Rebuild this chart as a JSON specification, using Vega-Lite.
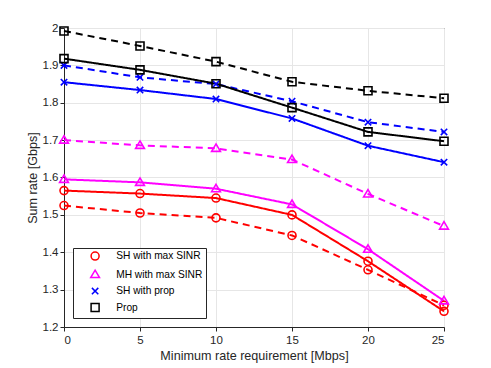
{
  "$schema": "https://vega.github.io/schema/vega-lite/v6.json",
  "width": 380,
  "height": 299,
  "autosize": "none",
  "padding": {"left": 64, "top": 28, "right": 47, "bottom": 41},
  "background": "white",
  "config": {
    "font": "Liberation Sans",
    "view": {"stroke": "#262626", "strokeWidth": 1},
    "axis": {
      "labelFont": "Liberation Sans", "titleFont": "Liberation Sans",
      "labelFontSize": 11.5, "titleFontSize": 12.6, "titleFontWeight": "normal",
      "labelColor": "#262626", "titleColor": "#262626",
      "domainColor": "#262626", "tickColor": "#262626",
      "gridColor": "#e6e6e6", "gridOpacity": 1, "tickSize": 4
    }
  },
  "data": {"values": [
    {"x": 0, "y": 1.565, "series": "SH with max SINR", "style": "solid"},
    {"x": 5, "y": 1.557, "series": "SH with max SINR", "style": "solid"},
    {"x": 10, "y": 1.545, "series": "SH with max SINR", "style": "solid"},
    {"x": 15, "y": 1.500, "series": "SH with max SINR", "style": "solid"},
    {"x": 20, "y": 1.376, "series": "SH with max SINR", "style": "solid"},
    {"x": 25, "y": 1.242, "series": "SH with max SINR", "style": "solid"},
    {"x": 0, "y": 1.525, "series": "SH with max SINR", "style": "dashed"},
    {"x": 5, "y": 1.505, "series": "SH with max SINR", "style": "dashed"},
    {"x": 10, "y": 1.492, "series": "SH with max SINR", "style": "dashed"},
    {"x": 15, "y": 1.445, "series": "SH with max SINR", "style": "dashed"},
    {"x": 20, "y": 1.353, "series": "SH with max SINR", "style": "dashed"},
    {"x": 25, "y": 1.258, "series": "SH with max SINR", "style": "dashed"},
    {"x": 0, "y": 1.595, "series": "MH with max SINR", "style": "solid"},
    {"x": 5, "y": 1.587, "series": "MH with max SINR", "style": "solid"},
    {"x": 10, "y": 1.570, "series": "MH with max SINR", "style": "solid"},
    {"x": 15, "y": 1.528, "series": "MH with max SINR", "style": "solid"},
    {"x": 20, "y": 1.408, "series": "MH with max SINR", "style": "solid"},
    {"x": 25, "y": 1.270, "series": "MH with max SINR", "style": "solid"},
    {"x": 0, "y": 1.700, "series": "MH with max SINR", "style": "dashed"},
    {"x": 5, "y": 1.686, "series": "MH with max SINR", "style": "dashed"},
    {"x": 10, "y": 1.678, "series": "MH with max SINR", "style": "dashed"},
    {"x": 15, "y": 1.648, "series": "MH with max SINR", "style": "dashed"},
    {"x": 20, "y": 1.556, "series": "MH with max SINR", "style": "dashed"},
    {"x": 25, "y": 1.470, "series": "MH with max SINR", "style": "dashed"},
    {"x": 0, "y": 1.855, "series": "SH with prop", "style": "solid"},
    {"x": 5, "y": 1.834, "series": "SH with prop", "style": "solid"},
    {"x": 10, "y": 1.810, "series": "SH with prop", "style": "solid"},
    {"x": 15, "y": 1.758, "series": "SH with prop", "style": "solid"},
    {"x": 20, "y": 1.685, "series": "SH with prop", "style": "solid"},
    {"x": 25, "y": 1.641, "series": "SH with prop", "style": "solid"},
    {"x": 0, "y": 1.900, "series": "SH with prop", "style": "dashed"},
    {"x": 5, "y": 1.868, "series": "SH with prop", "style": "dashed"},
    {"x": 10, "y": 1.850, "series": "SH with prop", "style": "dashed"},
    {"x": 15, "y": 1.804, "series": "SH with prop", "style": "dashed"},
    {"x": 20, "y": 1.748, "series": "SH with prop", "style": "dashed"},
    {"x": 25, "y": 1.722, "series": "SH with prop", "style": "dashed"},
    {"x": 0, "y": 1.918, "series": "Prop", "style": "solid"},
    {"x": 5, "y": 1.888, "series": "Prop", "style": "solid"},
    {"x": 10, "y": 1.851, "series": "Prop", "style": "solid"},
    {"x": 15, "y": 1.787, "series": "Prop", "style": "solid"},
    {"x": 20, "y": 1.722, "series": "Prop", "style": "solid"},
    {"x": 25, "y": 1.697, "series": "Prop", "style": "solid"},
    {"x": 0, "y": 1.992, "series": "Prop", "style": "dashed"},
    {"x": 5, "y": 1.952, "series": "Prop", "style": "dashed"},
    {"x": 10, "y": 1.910, "series": "Prop", "style": "dashed"},
    {"x": 15, "y": 1.856, "series": "Prop", "style": "dashed"},
    {"x": 20, "y": 1.832, "series": "Prop", "style": "dashed"},
    {"x": 25, "y": 1.812, "series": "Prop", "style": "dashed"}
  ]},
  "encoding": {
    "x": {"field": "x", "type": "quantitative", "title": "Minimum rate requirement [Mbps]",
      "scale": {"domain": [0, 25], "nice": false},
      "axis": {"values": [0, 5, 10, 15, 20, 25], "grid": true, "labelPadding": 3, "titlePadding": 4}},
    "y": {"field": "y", "type": "quantitative", "title": "Sum rate [Gbps]",
      "scale": {"domain": [1.2, 2], "nice": false, "zero": false},
      "axis": {"values": [1.2, 1.3, 1.4, 1.5, 1.6, 1.7, 1.8, 1.9, 2], "format": "~g", "grid": true, "labelPadding": 2, "titlePadding": 3}},
    "color": {"field": "series", "type": "nominal",
      "scale": {"domain": ["SH with max SINR", "MH with max SINR", "SH with prop", "Prop"],
                "range": ["#ff0000", "#ff00ff", "#0000ff", "#000000"]},
      "legend": {
        "title": null, "orient": "bottom-left", "offset": 9,
        "fillColor": "white", "strokeColor": "#262626", "padding": 3,
        "labelFontSize": 10.2, "labelColor": "#000000", "rowPadding": 2.5,
        "symbolStrokeWidth": 1.5, "symbolSize": 64,
        "symbolOffset": 14, "labelOffset": 16,
        "labelFont": "Liberation Sans"
      }
    }
  },
  "layer": [
    {
      "mark": {"type": "line", "strokeWidth": 2},
      "encoding": {
        "detail": {"field": "style"},
        "strokeDash": {"field": "style", "type": "nominal",
          "scale": {"domain": ["solid", "dashed"], "range": [[1, 0], [7, 5]]},
          "legend": null}
      }
    },
    {
      "mark": {"type": "point", "filled": false, "strokeWidth": 1.6, "size": 64, "opacity": 1},
      "encoding": {
        "shape": {"field": "series", "type": "nominal",
          "scale": {"domain": ["SH with max SINR", "MH with max SINR", "SH with prop", "Prop"],
                    "range": ["circle", "M0,-1.1L1.1,0.75L-1.1,0.75Z", "M-0.8,-0.8L0.8,0.8M-0.8,0.8L0.8,-0.8", "square"]},
          "legend": null
        }
      }
    }
  ]
}
